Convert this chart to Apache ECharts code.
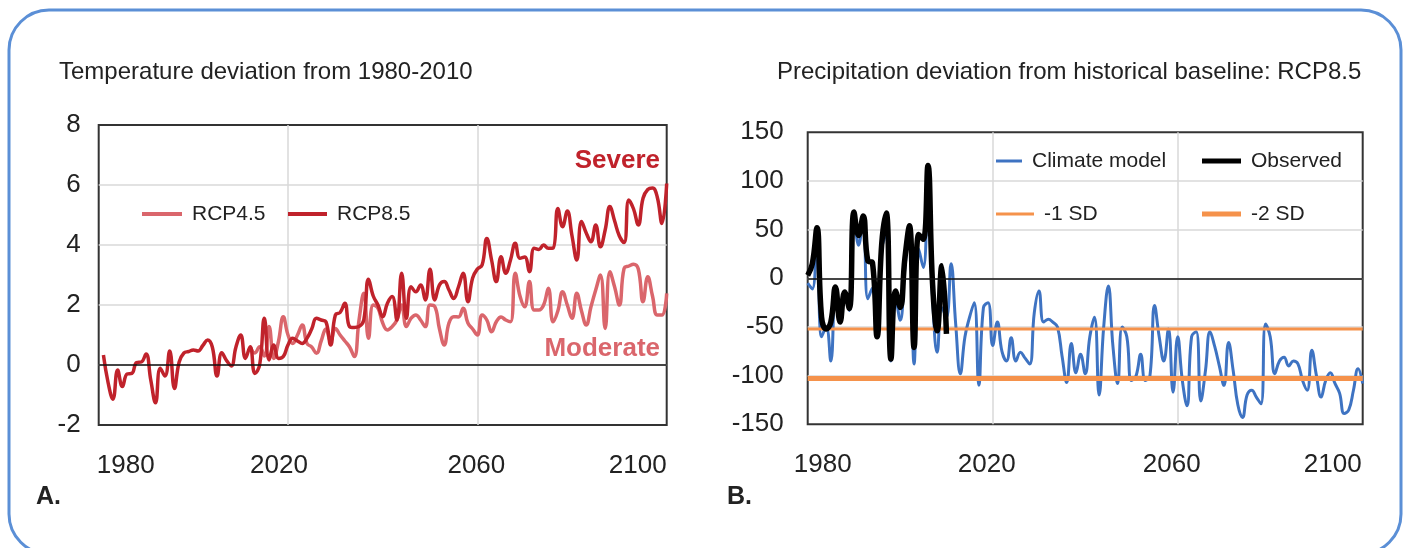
<!DOCTYPE html>
<html><head><meta charset="utf-8">
<script src="https://cdn.jsdelivr.net/npm/echarts@6/dist/echarts.min.js"></script>
<style>html,body{margin:0;padding:0;background:#fff}#c{width:1410px;height:548px}</style>
</head><body><div id="c"></div>
<script>
// ---------- DATA ----------
const baseYear = 1980;
const xTickYears = [1980, 2020, 2060, 2100];
const tempTicks = [-2, 0, 2, 4, 6, 8];
const precipTicks = [-150, -100, -50, 0, 50, 100, 150];

// Temperature deviation (left panel)
const rcp85Start = 1981;
const rcp85 = [
  0.33, -0.6, -1.14, -0.17, -0.72, -0.3, -0.28, 0.08, 0.1, 0.37,
  -0.5, -1.26, -0.11, -0.37, 0.47, -0.78, 0.1, 0.4, 0.45, 0.5,
  0.47, 0.65, 0.83, 0.6, -0.37, 0.41, 0.15, -0.03, 0.6, 1.0,
  0.22, 0.61, -0.28, 0.0, 1.56, 0.17, 0.67, 0.22, 0.28, 0.67,
  0.89, 0.8, 0.72, 0.89, 1.2, 1.56, 1.5, 1.44, 0.67, 1.67,
  1.75, 2.06, 1.28, 1.25, 1.28, 1.5, 2.86, 2.3, 2.0, 1.61,
  2.06, 2.28, 1.5, 3.06, 1.56, 2.61, 2.44, 2.67, 2.17, 3.19,
  2.17, 2.67, 2.78, 2.5, 2.22, 2.6, 3.06, 2.11, 2.9, 3.2,
  3.33, 4.22, 3.5, 2.78, 3.61, 3.06, 3.5, 4.06, 3.56, 3.6,
  3.11, 3.89, 3.85, 4.0, 3.89, 3.9, 5.22, 4.61, 5.13, 4.3,
  3.5, 4.78, 4.4, 4.11, 4.67, 3.94, 4.5, 5.28, 4.8, 4.3,
  4.08, 5.5, 5.2, 4.67, 5.56, 5.85, 5.9, 5.6, 4.72, 6.05
];
const rcp45Start = 2012;
const rcp45 = [
  0.61, 0.4, 0.61, 0.3, 1.28, 0.22, 0.8, 1.61, 1.0, 0.72,
  1.0, 1.33, 0.72, 0.6, 0.39, 0.8, 1.2, 0.78, 1.22, 1.0,
  0.8, 0.6, 0.28, 1.5, 2.39, 0.89, 2.0, 1.89, 1.4, 1.17,
  1.28, 1.5, 2.0, 1.28, 1.56, 1.67, 1.5, 1.28, 2.0, 1.95,
  1.2, 0.67, 1.4, 1.61, 1.6, 1.89, 1.4, 1.2, 1.0, 1.67,
  1.5, 1.11, 1.44, 1.6, 1.5, 1.44, 3.06, 2.3, 1.94, 2.78,
  1.83, 1.83, 2.0, 2.56, 1.44, 1.8, 2.44, 2.0, 1.56, 2.39,
  1.8, 1.33, 1.94, 2.5, 3.0, 1.22, 3.11, 2.6, 2.0, 3.22,
  3.3, 3.36, 3.2, 2.11, 2.94, 2.3, 1.67, 1.67, 2.39
];

// Precipitation deviation (right panel)
const modelStart = 1980;
const climateModel = [
  -5, -11, 45, -60, -50, -85, -14, -45, -14, -33,
  66, 34, 62, -21, -10, -60, 30, 45, -85, -20,
  -43, 10, 50, -88, 30, 11, 85, -20, -76, -30,
  -40, 15, -47, -98, -60, -40, -25, -110, -30, -25,
  -69, -45, -75, -85, -61, -85, -76, -82, -88, -35,
  -13, -45, -42, -45, -50, -80, -107, -67, -97, -78,
  -98, -60, -40, -120, -50, -8, -70, -108, -50, -60,
  -105, -100, -78, -105, -100, -28, -60, -85, -52, -117,
  -60, -105, -131, -60, -55, -126, -95, -55, -70, -90,
  -110, -66, -95, -130, -143, -120, -115, -122, -129, -47,
  -60, -98, -85, -81, -90, -85, -88, -105, -115, -74,
  -100, -122, -105, -97, -108, -118, -139, -135, -115, -93,
  -108
];
const observedStart = 1980;
const observed = [
  3, 15, 52, -40, -52, -45, -9, -45, -14, -31,
  68, 44, 64, 18, 16, -60, 35, 67, -83, -13,
  -30, 20, 54, -71, 45, 40, 116, -6, -54, 13,
  -57
];
const sd1Value = -52;
const sd2Value = -103;

// ---------- HELPERS ----------
const FONT = '"Liberation Sans", Arial, sans-serif';
const xMin = xTickYears[0] - baseYear, xMax = xTickYears[xTickYears.length - 1] - baseYear;
function pairs(start, vals) { return vals.map((v, i) => [start + i - baseYear, v]); }

const c85 = '#c0222b', c45 = '#da666c', cBlue = '#3e73c2', cOrange = '#f5924b';

// per-label nudges (px) so the year labels sit where the reference places them
const leftShift = {1980: 27, 2020: -9, 2060: -1, 2100: -29};
const rightShift = {1980: 15, 2020: -6, 2060: -6, 2100: -30};
function richFor(shift) {
  const r = {};
  xTickYears.forEach(y => {
    const s = shift[y];
    r['y' + y] = {fontSize: 26, color: '#222', fontFamily: FONT,
      padding: s >= 0 ? [0, 0, 0, 2 * s] : [0, -2 * s, 0, 0]};
  });
  return r;
}
const splitStyle = {show: true, showMinLine: false, showMaxLine: false, lineStyle: {color: '#d9d9d9', width: 1.5}};
function xAxisFor(gridIndex, shift) {
  return {
    type: 'value', gridIndex, min: xMin, max: xMax, interval: 40,
    axisLine: {show: false}, axisTick: {show: false},
    splitLine: splitStyle,
    axisLabel: {margin: 28, formatter: v => '{y' + (v + baseYear) + '|' + (v + baseYear) + '}', rich: richFor(shift)}
  };
}
function yAxisFor(gridIndex, ticks, margin) {
  return {
    type: 'value', gridIndex, min: ticks[0], max: ticks[ticks.length - 1], interval: ticks[1] - ticks[0],
    axisLine: {show: false}, axisTick: {show: false},
    splitLine: splitStyle,
    axisLabel: {fontSize: 26, color: '#222', fontFamily: FONT, margin}
  };
}
const zeroLine = {silent: true, symbol: 'none', label: {show: false},
  lineStyle: {color: '#111', width: 1.5, type: 'solid'}, data: [{yAxis: 0}]};

function legendItem(name, left, centerY, w, h) {
  return {data: [name], left, top: centerY - 10.5, padding: 0, icon: 'rect',
    itemWidth: w, itemHeight: h, selectedMode: false,
    textStyle: {fontSize: 21, color: '#222', fontFamily: FONT, padding: [0, 0, 0, 5]}};
}
function lineSeries(name, xi, data, color, width, extra) {
  return Object.assign({name, type: 'line', xAxisIndex: xi, yAxisIndex: xi, data,
    symbol: 'none', smooth: 0.45, lineStyle: {color, width}, itemStyle: {color}}, extra || {});
}

const option = {
  animation: false,
  textStyle: {fontFamily: FONT},
  title: [
    {text: 'Temperature deviation from 1980-2010', left: 59, top: 60, padding: 0,
     textStyle: {fontSize: 24, fontWeight: 'normal', color: '#222', fontFamily: FONT}},
    {text: 'Precipitation deviation from historical baseline: RCP8.5', left: 777, top: 60, padding: 0,
     textStyle: {fontSize: 24, fontWeight: 'normal', color: '#222', fontFamily: FONT}}
  ],
  grid: [
    {left: 98.7, top: 125, width: 568, height: 300, show: true, borderColor: '#333', borderWidth: 2, backgroundColor: 'transparent'},
    {left: 807.7, top: 132.3, width: 555, height: 292, show: true, borderColor: '#333', borderWidth: 2, backgroundColor: 'transparent'}
  ],
  xAxis: [xAxisFor(0, leftShift), xAxisFor(1, rightShift)],
  yAxis: [yAxisFor(0, tempTicks, 18), yAxisFor(1, precipTicks, 24)],
  legend: [
    legendItem('RCP4.5', 142, 214, 40, 4),
    legendItem('RCP8.5', 288, 214, 39, 4),
    legendItem('Climate model', 996, 161, 26, 3),
    legendItem('Observed', 1202, 161, 39, 5),
    legendItem('-1 SD', 996, 214, 38, 3),
    legendItem('-2 SD', 1202, 214, 39, 5)
  ],
  series: [
    lineSeries('RCP4.5', 0, pairs(rcp45Start, rcp45), c45, 3.5),
    lineSeries('RCP8.5', 0, pairs(rcp85Start, rcp85), c85, 3.5, {markLine: zeroLine}),
    lineSeries('Climate model', 1, pairs(modelStart, climateModel), cBlue, 3, {markLine: zeroLine}),
    lineSeries('-1 SD', 1, [[xMin, sd1Value], [xMax, sd1Value]], cOrange, 3, {smooth: false}),
    lineSeries('-2 SD', 1, [[xMin, sd2Value], [xMax, sd2Value]], cOrange, 5, {smooth: false}),
    lineSeries('Observed', 1, pairs(observedStart, observed), '#000', 5.5)
  ],
  graphic: [
    {type: 'rect', silent: true, z: 100,
     shape: {x: 9, y: 10, width: 1392, height: 544, r: 40},
     style: {fill: 'none', stroke: '#5b8fd6', lineWidth: 3}},
    {type: 'text', silent: true, z: 100,
     style: {text: 'Severe', x: 660, y: 161, align: 'right', verticalAlign: 'middle', textAlign: 'right', textVerticalAlign: 'middle',
             font: 'bold 26px ' + FONT, fill: c85}},
    {type: 'text', silent: true, z: 100,
     style: {text: 'Moderate', x: 660, y: 349, align: 'right', verticalAlign: 'middle', textAlign: 'right', textVerticalAlign: 'middle',
             font: 'bold 26px ' + FONT, fill: c45}},
    {type: 'text', silent: true, z: 100,
     style: {text: 'A.', x: 36, y: 497, verticalAlign: 'middle', textVerticalAlign: 'middle',
             font: 'bold 25px ' + FONT, fill: '#222'}},
    {type: 'text', silent: true, z: 100,
     style: {text: 'B.', x: 727, y: 497, verticalAlign: 'middle', textVerticalAlign: 'middle',
             font: 'bold 25px ' + FONT, fill: '#222'}}
  ]
};
const chart = echarts.init(document.getElementById('c'), null, {renderer: 'canvas'});
chart.setOption(option);
</script></body></html>
